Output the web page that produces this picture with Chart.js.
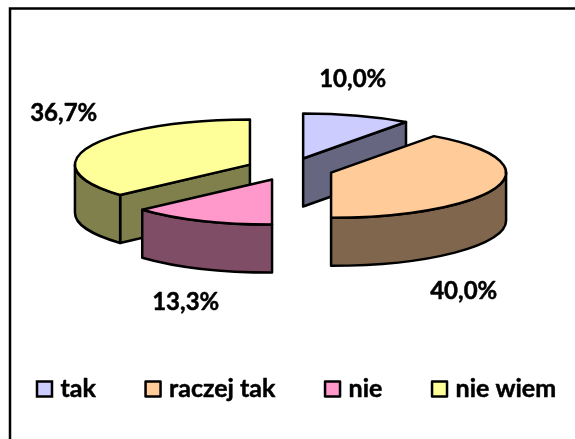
<!DOCTYPE html>
<html><head><meta charset="utf-8">
<style>html,body{margin:0;padding:0;background:#fff}canvas{display:block}</style>
<script src="https://cdn.jsdelivr.net/npm/chart.js@4"></script>
</head><body><canvas id="c" width="575" height="439"></canvas>
<script>
const categories = ['tak', 'raczej tak', 'nie', 'nie wiem'];
const seriesValues = [10.0, 40.0, 13.3, 36.7];
const topColors = ['#CCCCFF', '#FFCC99', '#FF99CC', '#FFFF99'];
const sideColors = ['#666680', '#80664D', '#804D66', '#80804D'];
const drawOrder = [0, 3, 1, 2];
const labelShift = [[63, -89.5], [174, 122], [-104, 133], [-226, -55.5]];

const LABEL_FONT = 'bold 24px Lato';
const LEGEND_FONT = 'bold 25px Lato';
const TILT = 0.258, DEPTH = 48;

function heavyText(ctx, txt, x, y) {
  ctx.lineWidth = 0.5; ctx.strokeStyle = '#000'; ctx.lineJoin = 'round';
  ctx.strokeText(txt, x, y);
  ctx.fillText(txt, x, y);
}

function drawSlice(ctx, arc, i) {
  const p = arc.getProps(['x', 'y', 'startAngle', 'endAngle', 'outerRadius'], true);
  const R = p.outerRadius, r = R * TILT, s = p.startAngle, e = p.endAngle;
  const mid = (s + e) / 2, off = arc.options.offset / 4;
  const cx = p.x + Math.cos(mid) * off, cy = p.y + Math.sin(mid) * off * TILT;
  const rim = a => [cx + Math.cos(a) * R, cy + Math.sin(a) * r];
  ctx.save();
  ctx.lineWidth = arc.options.borderWidth;
  ctx.strokeStyle = arc.options.borderColor;
  ctx.lineJoin = 'round';
  const face = a => {
    const q = rim(a);
    ctx.beginPath();
    ctx.moveTo(cx, cy); ctx.lineTo(q[0], q[1]);
    ctx.lineTo(q[0], q[1] + DEPTH); ctx.lineTo(cx, cy + DEPTH);
    ctx.closePath();
    ctx.fillStyle = sideColors[i]; ctx.fill(); ctx.stroke();
  };
  // a radial cut is visible when its outward normal faces the viewer
  if (Math.cos(s) < -1e-6) face(s);
  if (Math.cos(e) > 1e-6) face(e);
  // front rim
  const TAU = Math.PI * 2;
  for (let k = -1; k <= 1; k++) {
    const a0 = Math.max(s, k * TAU), a1 = Math.min(e, k * TAU + Math.PI);
    if (a1 > a0) {
      ctx.beginPath();
      ctx.ellipse(cx, cy, R, r, 0, a0, a1);
      ctx.ellipse(cx, cy + DEPTH, R, r, 0, a1, a0, true);
      ctx.closePath();
      ctx.fillStyle = sideColors[i]; ctx.fill(); ctx.stroke();
    }
  }
  // top
  ctx.beginPath();
  ctx.moveTo(cx, cy);
  ctx.ellipse(cx, cy, R, r, 0, s, e);
  ctx.closePath();
  ctx.fillStyle = arc.options.backgroundColor; ctx.fill(); ctx.stroke();
  ctx.restore();
}

const pie3d = {
  id: 'pie3d',
  beforeDraw(chart) {
    const ctx = chart.ctx;
    ctx.save();
    ctx.strokeStyle = '#000'; ctx.lineWidth = 2.5;
    ctx.beginPath();
    ctx.moveTo(10, 439); ctx.lineTo(10, 8.5); ctx.lineTo(575, 8.5);
    ctx.stroke();
    ctx.restore();
  },
  beforeDatasetDraw(chart, args) {
    const ctx = chart.ctx, arcs = args.meta.data;
    drawOrder.forEach(i => drawSlice(ctx, arcs[i], i));
    const total = seriesValues.reduce((a, b) => a + b, 0);
    ctx.save();
    ctx.font = LABEL_FONT; ctx.fillStyle = '#000';
    ctx.textAlign = 'center'; ctx.textBaseline = 'middle';
    arcs.forEach((arc, i) => {
      const txt = (seriesValues[i] / total * 100).toFixed(1).replace('.', ',') + '%';
      heavyText(ctx, txt, arc.x + labelShift[i][0], arc.y + labelShift[i][1]);
    });
    ctx.restore();
    return false;
  },
  afterDraw(chart) {
    const ctx = chart.ctx;
    const meta = chart.getDatasetMeta(0);
    let x = 37; const y = 381.5, box = 15;
    ctx.save();
    ctx.font = LEGEND_FONT; ctx.textBaseline = 'alphabetic'; ctx.textAlign = 'left';
    chart.data.labels.forEach((lab, i) => {
      ctx.fillStyle = meta.data[i].options.backgroundColor;
      ctx.strokeStyle = '#000'; ctx.lineWidth = 2.5;
      ctx.fillRect(x, y, box, box); ctx.strokeRect(x, y, box, box);
      ctx.fillStyle = '#000';
      heavyText(ctx, lab, x + 23.5, 397);
      x += 23.5 + ctx.measureText(lab).width + 49.7;
    });
    ctx.restore();
  }
};

new Chart(document.getElementById('c'), {
  type: 'pie',
  data: {
    labels: categories,
    datasets: [{
      data: seriesValues,
      backgroundColor: topColors,
      borderColor: '#000',
      borderWidth: 2.5,
      offset: 174
    }]
  },
  options: {
    responsive: false,
    animation: false,
    radius: 175,
    layout: { padding: { left: 4.4, right: 0, top: 0, bottom: 100.6 } },
    plugins: { legend: { display: false }, tooltip: { enabled: false } }
  },
  plugins: [pie3d]
});
</script></body></html>
